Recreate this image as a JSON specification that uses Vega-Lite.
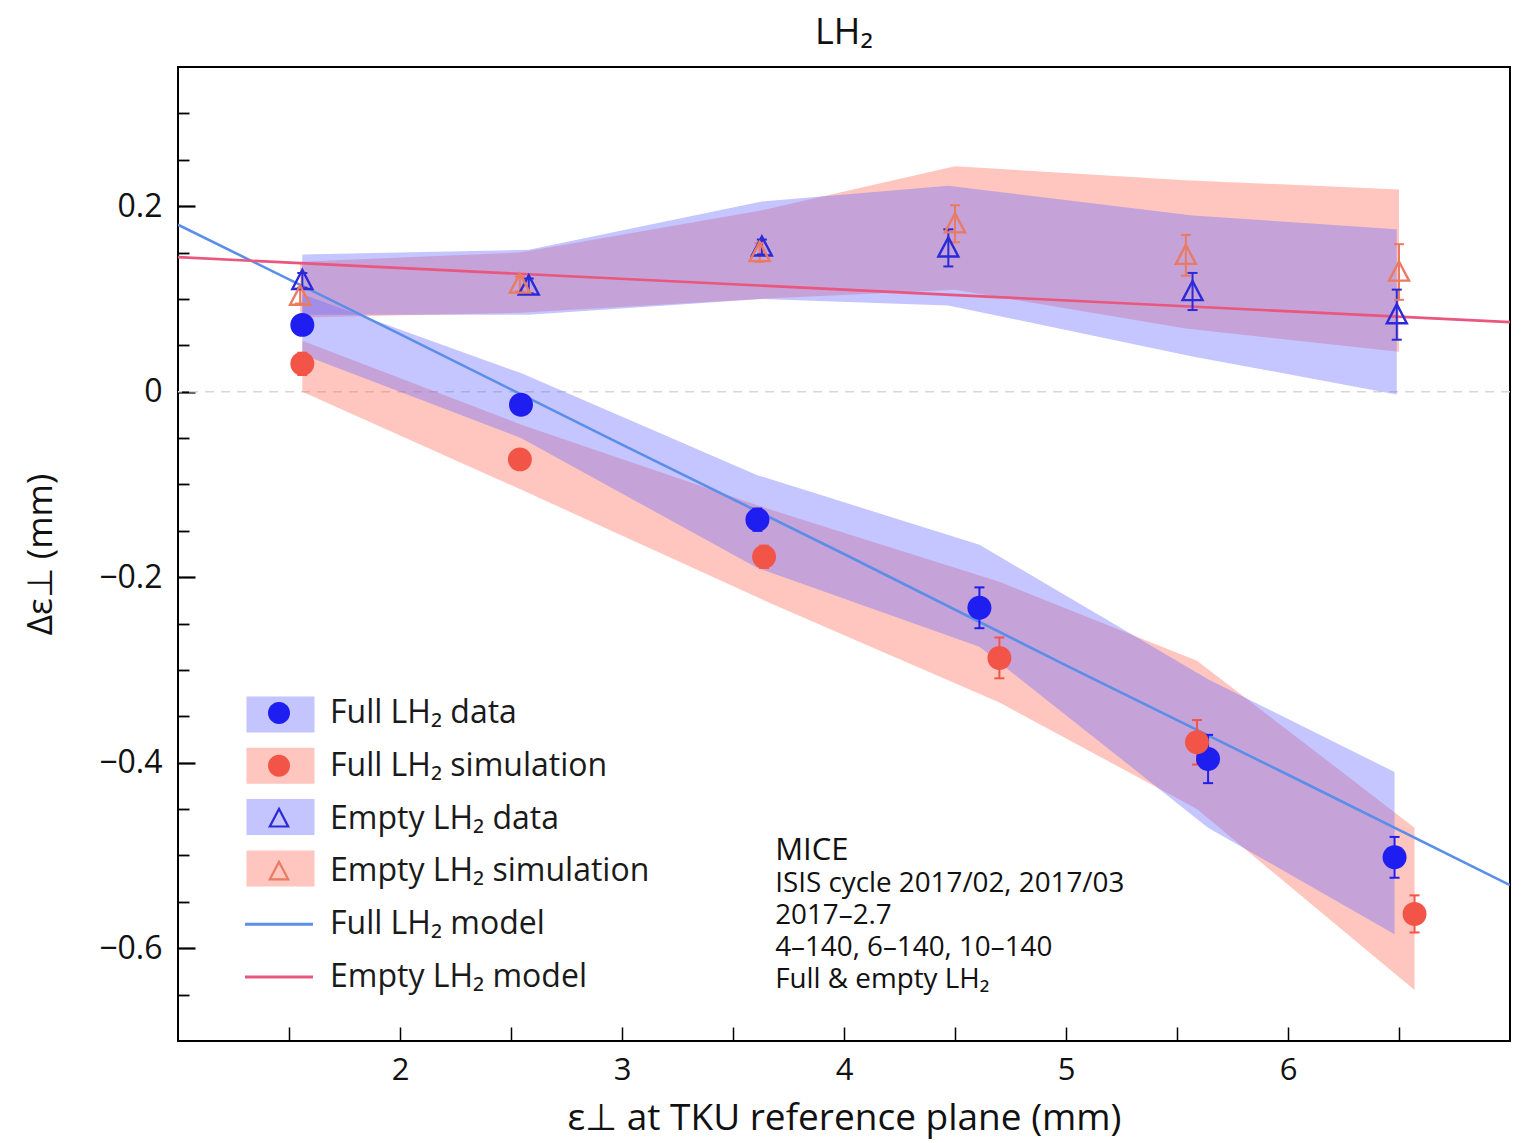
{
  "$schema": "https://vega.github.io/schema/vega-lite/v6.json",
  "width": 1332,
  "height": 974,
  "autosize": {"type": "none"},
  "padding": {"left": 178, "top": 67, "right": 11, "bottom": 102},
  "background": "white",
  "title": {"text": "LH₂", "fontSize": 36, "font": "Open Sans", "fontWeight": "normal", "color": "#111111", "offset": 15, "anchor": "middle"},
  "config": {
    "view": {"stroke": "black", "strokeWidth": 2},
    "font": "Open Sans",
    "axis": {"grid": false, "labelFont": "Open Sans", "titleFont": "Open Sans", "labelColor": "#111111", "titleColor": "#111111", "tickColor": "black"}
  },
  "datasets": {
    "bands": [
      {"band": "Full LH₂ simulation band", "x": 1.56, "lo": 0.0, "hi": 0.055},
      {"band": "Full LH₂ simulation band", "x": 2.54, "lo": -0.105, "hi": -0.035},
      {"band": "Full LH₂ simulation band", "x": 3.64, "lo": -0.225, "hi": -0.125},
      {"band": "Full LH₂ simulation band", "x": 4.70, "lo": -0.335, "hi": -0.205},
      {"band": "Full LH₂ simulation band", "x": 5.59, "lo": -0.45, "hi": -0.29},
      {"band": "Full LH₂ simulation band", "x": 6.57, "lo": -0.645, "hi": -0.47},
      {"band": "Empty LH₂ simulation band", "x": 1.55, "lo": 0.08, "hi": 0.14},
      {"band": "Empty LH₂ simulation band", "x": 2.54, "lo": 0.085, "hi": 0.15},
      {"band": "Empty LH₂ simulation band", "x": 3.62, "lo": 0.10, "hi": 0.195},
      {"band": "Empty LH₂ simulation band", "x": 4.50, "lo": 0.11, "hi": 0.243},
      {"band": "Empty LH₂ simulation band", "x": 5.54, "lo": 0.068, "hi": 0.228},
      {"band": "Empty LH₂ simulation band", "x": 6.50, "lo": 0.043, "hi": 0.218},
      {"band": "Full LH₂ data band", "x": 1.56, "lo": 0.04, "hi": 0.105},
      {"band": "Full LH₂ data band", "x": 2.545, "lo": -0.05, "hi": 0.02},
      {"band": "Full LH₂ data band", "x": 3.61, "lo": -0.19, "hi": -0.09},
      {"band": "Full LH₂ data band", "x": 4.61, "lo": -0.275, "hi": -0.165},
      {"band": "Full LH₂ data band", "x": 5.64, "lo": -0.47, "hi": -0.31},
      {"band": "Full LH₂ data band", "x": 6.48, "lo": -0.585, "hi": -0.41},
      {"band": "Empty LH₂ data band", "x": 1.56, "lo": 0.083, "hi": 0.148},
      {"band": "Empty LH₂ data band", "x": 2.58, "lo": 0.083, "hi": 0.153},
      {"band": "Empty LH₂ data band", "x": 3.63, "lo": 0.10, "hi": 0.205},
      {"band": "Empty LH₂ data band", "x": 4.47, "lo": 0.093, "hi": 0.222},
      {"band": "Empty LH₂ data band", "x": 5.57, "lo": 0.038, "hi": 0.19},
      {"band": "Empty LH₂ data band", "x": 6.49, "lo": -0.003, "hi": 0.175}
    ],
    "models": [
      {"series": "Full LH₂ model", "x": 1.0, "y": 0.18},
      {"series": "Full LH₂ model", "x": 2.0, "y": 0.062},
      {"series": "Full LH₂ model", "x": 3.0, "y": -0.057},
      {"series": "Full LH₂ model", "x": 4.0, "y": -0.175},
      {"series": "Full LH₂ model", "x": 5.0, "y": -0.295},
      {"series": "Full LH₂ model", "x": 6.0, "y": -0.413},
      {"series": "Full LH₂ model", "x": 7.0, "y": -0.532},
      {"series": "Empty LH₂ model", "x": 1.0, "y": 0.145},
      {"series": "Empty LH₂ model", "x": 7.0, "y": 0.075}
    ],
    "pts": [
      {"series": "Full LH₂ data", "x": 1.56, "y": 0.072, "lo": 0.064, "hi": 0.080},
      {"series": "Full LH₂ data", "x": 2.545, "y": -0.014, "lo": -0.024, "hi": -0.004},
      {"series": "Full LH₂ data", "x": 3.61, "y": -0.138, "lo": -0.150, "hi": -0.126},
      {"series": "Full LH₂ data", "x": 4.61, "y": -0.233, "lo": -0.255, "hi": -0.211},
      {"series": "Full LH₂ data", "x": 5.64, "y": -0.396, "lo": -0.422, "hi": -0.370},
      {"series": "Full LH₂ data", "x": 6.48, "y": -0.502, "lo": -0.524, "hi": -0.480},
      {"series": "Full LH₂ simulation", "x": 1.56, "y": 0.030, "lo": 0.018, "hi": 0.042},
      {"series": "Full LH₂ simulation", "x": 2.54, "y": -0.073, "lo": -0.081, "hi": -0.065},
      {"series": "Full LH₂ simulation", "x": 3.64, "y": -0.178, "lo": -0.190, "hi": -0.166},
      {"series": "Full LH₂ simulation", "x": 4.70, "y": -0.287, "lo": -0.309, "hi": -0.265},
      {"series": "Full LH₂ simulation", "x": 5.59, "y": -0.378, "lo": -0.402, "hi": -0.354},
      {"series": "Full LH₂ simulation", "x": 6.57, "y": -0.563, "lo": -0.583, "hi": -0.543},
      {"series": "Empty LH₂ data", "x": 1.56, "y": 0.120, "lo": 0.112, "hi": 0.128},
      {"series": "Empty LH₂ data", "x": 2.58, "y": 0.114, "lo": 0.106, "hi": 0.122},
      {"series": "Empty LH₂ data", "x": 3.63, "y": 0.156, "lo": 0.148, "hi": 0.164},
      {"series": "Empty LH₂ data", "x": 4.47, "y": 0.155, "lo": 0.135, "hi": 0.175},
      {"series": "Empty LH₂ data", "x": 5.57, "y": 0.108, "lo": 0.088, "hi": 0.128},
      {"series": "Empty LH₂ data", "x": 6.49, "y": 0.083, "lo": 0.056, "hi": 0.110},
      {"series": "Empty LH₂ simulation", "x": 1.55, "y": 0.103, "lo": 0.095, "hi": 0.111},
      {"series": "Empty LH₂ simulation", "x": 2.54, "y": 0.116, "lo": 0.108, "hi": 0.124},
      {"series": "Empty LH₂ simulation", "x": 3.62, "y": 0.150, "lo": 0.140, "hi": 0.160},
      {"series": "Empty LH₂ simulation", "x": 4.50, "y": 0.181, "lo": 0.161, "hi": 0.201},
      {"series": "Empty LH₂ simulation", "x": 5.54, "y": 0.147, "lo": 0.125, "hi": 0.169},
      {"series": "Empty LH₂ simulation", "x": 6.50, "y": 0.129, "lo": 0.099, "hi": 0.159}
    ]
  },
  "resolve": {"axis": {"x": "independent", "y": "independent"}},
  "layer": [
    {
      "data": {"values": [{}]},
      "mark": {"type": "rule", "strokeDash": [9, 7], "color": "#d6d6d6", "strokeWidth": 1.5},
      "encoding": {"y": {"datum": 0, "type": "quantitative", "axis": null, "scale": {"domain": [-0.7, 0.35], "nice": false, "zero": false}}}
    },
    {
      "data": {"name": "bands"},
      "mark": {"type": "area", "fillOpacity": 0.4},
      "encoding": {
        "x": {"field": "x", "type": "quantitative", "scale": {"domain": [1, 7], "nice": false, "zero": false},
          "axis": {"orient": "bottom", "values": [2, 3, 4, 5, 6], "ticks": false, "domain": false, "labelFontSize": 31, "labelPadding": 14, "format": "d",
            "title": "ε⊥ at TKU reference plane (mm)", "titleFontSize": 37, "titleFontWeight": "normal", "titlePadding": 15}},
        "y": {"field": "hi", "type": "quantitative", "stack": null, "scale": {"domain": [-0.7, 0.35], "nice": false, "zero": false},
          "axis": {"orient": "left", "values": [-0.6, -0.4, -0.2, 0, 0.2], "ticks": false, "domain": false, "labelFontSize": 32, "labelPadding": 16,
            "labelExpr": "datum.value == 0 ? '0' : replace(format(datum.value, '.1f'), '-', '−')",
            "title": "Δε⊥ (mm)", "titleFontSize": 35, "titleFontWeight": "normal", "titlePadding": 40}},
        "y2": {"field": "lo"},
        "color": {"field": "band", "type": "nominal",
          "scale": {"domain": ["Full LH₂ data band", "Full LH₂ simulation band", "Empty LH₂ data band", "Empty LH₂ simulation band", "Full LH₂ model band", "Empty LH₂ model band"],
                    "range": ["#6e6eff", "#ff7060", "#6e6eff", "#ff7060", "transparent", "transparent"]},
          "legend": {"orient": "none", "legendX": 81, "legendY": 626, "title": null, "padding": 0, "zindex": 1,
            "symbolType": "M-1.7,-0.9H1.7V0.9H-1.7Z", "symbolSize": 1600, "symbolOpacity": 0.4,
            "symbolStrokeWidth": 2.5, "symbolStrokeColor": "transparent",
            "labelFontSize": 32, "labelFont": "Open Sans", "labelOpacity": 0, "labelLimit": 0, "labelOffset": 28, "rowPadding": 4.3}}
      }
    },
    {
      "data": {"name": "models"},
      "mark": {"type": "line", "strokeWidth": 2.6, "clip": true},
      "encoding": {
        "x": {"field": "x", "type": "quantitative",
          "axis": {"orient": "bottom", "values": [1.5, 2, 2.5, 3, 3.5, 4, 4.5, 5, 5.5, 6, 6.5], "labels": false, "domain": false, "tickSize": -14, "tickWidth": 1.5, "title": null}},
        "y": {"field": "y", "type": "quantitative",
          "axis": {"orient": "left", "values": [-0.6, -0.4, -0.2, 0, 0.2], "labels": false, "domain": false, "tickSize": -17, "tickWidth": 2.2, "title": null}},
        "stroke": {"field": "series", "type": "nominal",
          "scale": {"domain": ["Full LH₂ data", "Full LH₂ simulation", "Empty LH₂ data", "Empty LH₂ simulation", "Full LH₂ model", "Empty LH₂ model"],
                    "range": ["#1e1ef0", "#f25548", "#2a2ad8", "#ea7a62", "#5b8ee8", "#e9567e"]}}
      }
    },
    {
      "data": {"name": "pts"},
      "mark": {"type": "rule", "strokeWidth": 2},
      "encoding": {
        "x": {"field": "x", "type": "quantitative", "axis": null},
        "y": {"field": "lo", "type": "quantitative", "axis": null},
        "y2": {"field": "hi"},
        "stroke": {"field": "series", "type": "nominal",
          "scale": {"domain": ["Full LH₂ data", "Full LH₂ simulation", "Empty LH₂ data", "Empty LH₂ simulation", "Full LH₂ model", "Empty LH₂ model"],
                    "range": ["#1e1ef0", "#f25548", "#2a2ad8", "#ea7a62", "#5b8ee8", "#e9567e"]}}
      }
    },
    {
      "data": {"name": "pts"},
      "mark": {"type": "tick", "orient": "horizontal", "size": 10, "thickness": 2, "opacity": 1},
      "encoding": {
        "x": {"field": "x", "type": "quantitative", "axis": null},
        "y": {"field": "lo", "type": "quantitative", "axis": null},
        "fill": {"field": "series", "type": "nominal",
          "scale": {"domain": ["Full LH₂ data", "Full LH₂ simulation", "Empty LH₂ data", "Empty LH₂ simulation", "Full LH₂ model", "Empty LH₂ model"],
                    "range": ["#1e1ef0", "#f25548", "#2a2ad8", "#ea7a62", "#5b8ee8", "#e9567e"]}}
      }
    },
    {
      "data": {"name": "pts"},
      "mark": {"type": "tick", "orient": "horizontal", "size": 10, "thickness": 2, "opacity": 1},
      "encoding": {
        "x": {"field": "x", "type": "quantitative", "axis": null},
        "y": {"field": "hi", "type": "quantitative", "axis": null},
        "fill": {"field": "series", "type": "nominal",
          "scale": {"domain": ["Full LH₂ data", "Full LH₂ simulation", "Empty LH₂ data", "Empty LH₂ simulation", "Full LH₂ model", "Empty LH₂ model"],
                    "range": ["#1e1ef0", "#f25548", "#2a2ad8", "#ea7a62", "#5b8ee8", "#e9567e"]}}
      }
    },
    {
      "data": {"name": "pts"},
      "transform": [{"filter": {"field": "series", "oneOf": ["Full LH₂ data", "Full LH₂ simulation"]}}],
      "mark": {"type": "point", "filled": true, "size": 1900, "opacity": 1, "strokeWidth": 0},
      "encoding": {
        "x": {"field": "x", "type": "quantitative", "axis": null},
        "y": {"field": "y", "type": "quantitative",
          "axis": {"orient": "left", "values": [-0.65, -0.55, -0.5, -0.45, -0.35, -0.3, -0.25, -0.15, -0.1, -0.05, 0.05, 0.1, 0.15, 0.25, 0.3], "labels": false, "domain": false, "tickSize": -11, "tickWidth": 1.8, "title": null}},
        "shape": {"field": "series", "type": "nominal",
          "scale": {"domain": ["Full LH₂ data", "Full LH₂ simulation", "Empty LH₂ data", "Empty LH₂ simulation", "Full LH₂ model", "Empty LH₂ model"],
                    "range": ["M0.55,0A0.55,0.55,0,1,1,-0.55,0A0.55,0.55,0,1,1,0.55,0Z", "M0.55,0A0.55,0.55,0,1,1,-0.55,0A0.55,0.55,0,1,1,0.55,0Z",
                              "M0,-0.6L0.55,0.45L-0.55,0.45ZM0,-0.363L-0.368,0.34L0.368,0.34Z", "M0,-0.6L0.55,0.45L-0.55,0.45ZM0,-0.363L-0.368,0.34L0.368,0.34Z",
                              "M-1.7,-0.075H1.7V0.075H-1.7Z", "M-1.7,-0.075H1.7V0.075H-1.7Z"]},
          "legend": {"orient": "none", "legendX": 81, "legendY": 626, "title": null, "padding": 0, "zindex": 2,
            "symbolSize": 1600, "symbolStrokeWidth": 0, "symbolStrokeColor": "transparent", "symbolOpacity": 1,
            "labelFontSize": 32, "labelFont": "Open Sans", "labelColor": "#1a1a1a", "labelLimit": 0, "labelOffset": 31, "rowPadding": 16.8}},
        "fill": {"field": "series", "type": "nominal",
          "scale": {"domain": ["Full LH₂ data", "Full LH₂ simulation", "Empty LH₂ data", "Empty LH₂ simulation", "Full LH₂ model", "Empty LH₂ model"],
                    "range": ["#1e1ef0", "#f25548", "#2a2ad8", "#ea7a62", "#5b8ee8", "#e9567e"]},
          "legend": {"orient": "none", "legendX": 81, "legendY": 626, "title": null, "padding": 0, "zindex": 2,
            "symbolSize": 1600, "symbolStrokeWidth": 0, "symbolStrokeColor": "transparent", "symbolOpacity": 1,
            "labelFontSize": 32, "labelFont": "Open Sans", "labelColor": "#1a1a1a", "labelLimit": 0, "labelOffset": 31, "rowPadding": 16.8}}
      }
    },
    {
      "data": {"name": "pts"},
      "transform": [{"filter": {"field": "series", "oneOf": ["Empty LH₂ data", "Empty LH₂ simulation"]}}],
      "mark": {"type": "point", "filled": true, "size": 1900, "opacity": 1, "strokeWidth": 0},
      "encoding": {
        "x": {"field": "x", "type": "quantitative", "axis": null},
        "y": {"field": "y", "type": "quantitative", "axis": null},
        "shape": {"field": "series", "type": "nominal",
          "scale": {"domain": ["Full LH₂ data", "Full LH₂ simulation", "Empty LH₂ data", "Empty LH₂ simulation", "Full LH₂ model", "Empty LH₂ model"],
                    "range": ["M0.55,0A0.55,0.55,0,1,1,-0.55,0A0.55,0.55,0,1,1,0.55,0Z", "M0.55,0A0.55,0.55,0,1,1,-0.55,0A0.55,0.55,0,1,1,0.55,0Z",
                              "M0,-0.6L0.55,0.45L-0.55,0.45ZM0,-0.363L-0.368,0.34L0.368,0.34Z", "M0,-0.6L0.55,0.45L-0.55,0.45ZM0,-0.363L-0.368,0.34L0.368,0.34Z",
                              "M-1.7,-0.075H1.7V0.075H-1.7Z", "M-1.7,-0.075H1.7V0.075H-1.7Z"]}},
        "fill": {"field": "series", "type": "nominal",
          "scale": {"domain": ["Full LH₂ data", "Full LH₂ simulation", "Empty LH₂ data", "Empty LH₂ simulation", "Full LH₂ model", "Empty LH₂ model"],
                    "range": ["#1e1ef0", "#f25548", "#2a2ad8", "#ea7a62", "#5b8ee8", "#e9567e"]}}
      }
    },
    {
      "data": {"values": [{}]},
      "mark": {"type": "text", "text": "MICE", "align": "left", "baseline": "alphabetic", "fontSize": 31, "font": "Open Sans", "color": "#111111"},
      "encoding": {
        "x": {"datum": 3.69, "type": "quantitative", "axis": null},
        "y": {"datum": -0.505, "type": "quantitative", "axis": null}
      }
    },
    {
      "data": {"values": [{}]},
      "mark": {"type": "text", "text": ["ISIS cycle 2017/02, 2017/03", "2017–2.7", "4–140, 6–140, 10–140", "Full & empty LH₂"], "align": "left", "baseline": "alphabetic", "fontSize": 27.8, "lineHeight": 32, "font": "Open Sans", "color": "#111111"},
      "encoding": {
        "x": {"datum": 3.69, "type": "quantitative", "axis": null},
        "y": {"datum": -0.539, "type": "quantitative", "axis": null}
      }
    }
  ]
}
